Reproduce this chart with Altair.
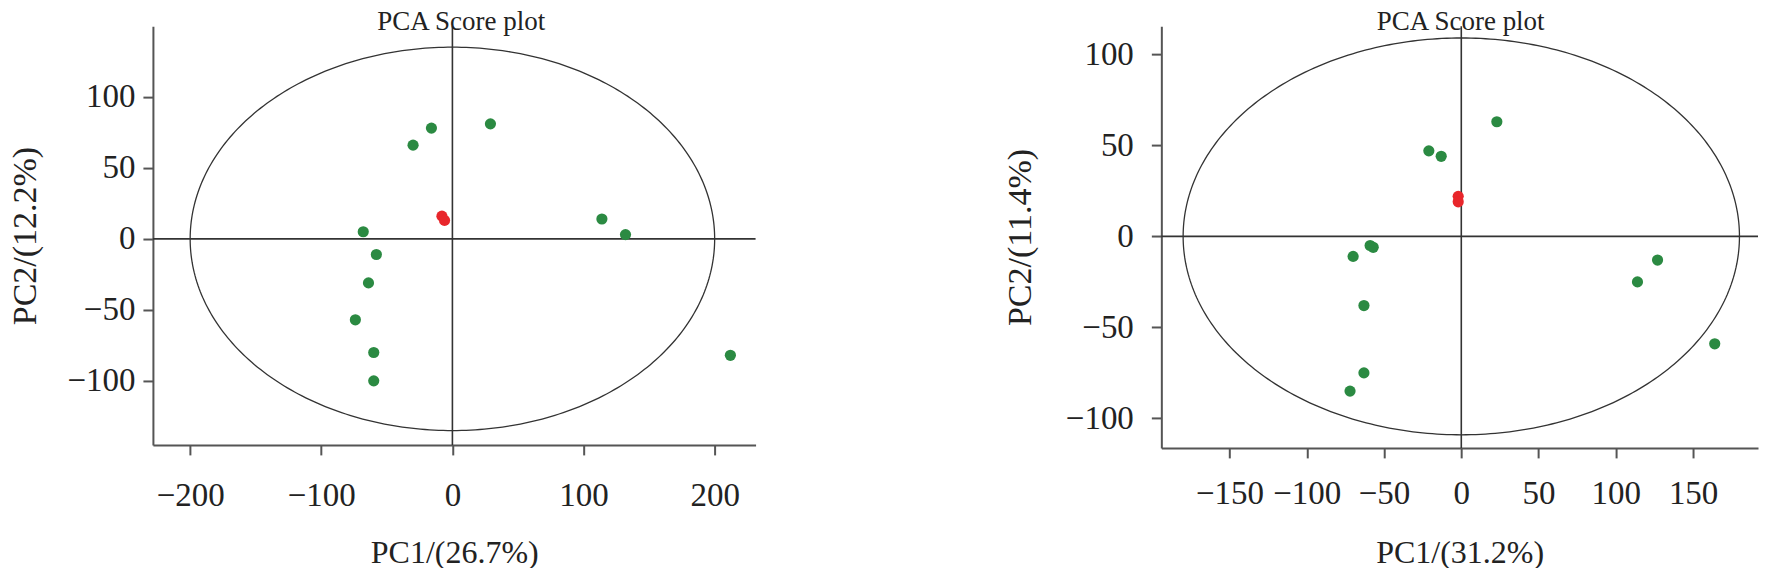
import altair as alt
import numpy as np
import pandas as pd

FONT = "Liberation Serif"

# ---- Panel A data ----
a_green_pc1 = [29, -16, -30, 114, 132, -68, -58, -64, -74, -60, -60, 212]
a_green_pc2 = [81, 78, 66, 14, 3, 5, -11, -31, -57, -80, -100, -82]
a_red_pc1 = [-8, -6]
a_red_pc2 = [16, 13]
a_ellipse_r = [200, 135]
a_xticks = [-200, -100, 0, 100, 200]
a_yticks = [-100, -50, 0, 50, 100]
a_xtitle = "PC1/(26.7%)"
a_ytitle = "PC2/(12.2%)"

# ---- Panel B data ----
b_green_pc1 = [23, -21, -13, -59, -57, -70, 127, 114, -63, 164, -63, -72]
b_green_pc2 = [63, 47, 44, -5, -6, -11, -13, -25, -38, -59, -75, -85]
b_red_pc1 = [-2, -2]
b_red_pc2 = [22, 19]
b_ellipse_r = [180, 109]
b_xticks = [-150, -100, -50, 0, 50, 100, 150]
b_yticks = [-100, -50, 0, 50, 100]
b_xtitle = "PC1/(31.2%)"
b_ytitle = "PC2/(11.4%)"

title_text = "PCA Score plot"
GREEN = "#2b8a42"
RED = "#e8262b"
LINE = "#333333"
AX = "#555555"


def panel(gx, gy, rx, ry, radii, xdom, ydom, xticks, yticks, xtitle, ytitle,
          width, height, tdx, xlabpad, xtitlepad, ylabpad, ytitlepad):
    pts = pd.DataFrame({
        "pc1": list(gx) + list(rx),
        "pc2": list(gy) + list(ry),
        "grp": ["sample"] * len(gx) + ["QC"] * len(rx),
    })
    t = np.linspace(0, 2 * np.pi, 361)
    ell = pd.DataFrame({"i": np.arange(len(t)),
                        "pc1": radii[0] * np.cos(t),
                        "pc2": radii[1] * np.sin(t)})
    xs = alt.Scale(domain=xdom, nice=False, zero=False)
    ys = alt.Scale(domain=ydom, nice=False, zero=False)
    xax = alt.Axis(values=xticks, grid=False, format="d", domainColor=AX, domainWidth=2,
                   tickColor=AX, tickWidth=2, tickSize=10, labelFont=FONT,
                   labelFontSize=33, labelColor="#222", labelPadding=xlabpad,
                   labelOverlap=False, labelFlush=False,
                   title=xtitle, titleFont=FONT, titleFontSize=32,
                   titleFontWeight="normal", titleColor="#222", titlePadding=xtitlepad)
    yax = alt.Axis(values=yticks, grid=False, format="d", domainColor=AX, domainWidth=2,
                   tickColor=AX, tickWidth=2, tickSize=10, labelFont=FONT,
                   labelFontSize=33, labelColor="#222", labelPadding=ylabpad,
                   labelOverlap=False, labelFlush=False,
                   title=ytitle, titleFont=FONT, titleFontSize=34,
                   titleFontWeight="normal", titleColor="#222", titlePadding=ytitlepad)
    base_pts = alt.Chart(pts).mark_circle(size=125, opacity=1).encode(
        x=alt.X("pc1:Q", scale=xs, axis=xax),
        y=alt.Y("pc2:Q", scale=ys, axis=yax),
        color=alt.Color("grp:N", scale=alt.Scale(domain=["sample", "QC"], range=[GREEN, RED]),
                        legend=None),
    )
    ellipse = alt.Chart(ell).mark_line(color=LINE, strokeWidth=1.3).encode(
        x=alt.X("pc1:Q", scale=xs), y=alt.Y("pc2:Q", scale=ys), order="i:Q")
    vrule = alt.Chart(pd.DataFrame({"v": [0]})).mark_rule(color=LINE, strokeWidth=1.6).encode(
        x=alt.X("v:Q", scale=xs))
    hrule = alt.Chart(pd.DataFrame({"v": [0]})).mark_rule(color=LINE, strokeWidth=1.6).encode(
        y=alt.Y("v:Q", scale=ys))
    return alt.layer(ellipse, vrule, hrule, base_pts).properties(
        width=width, height=height,
        title=alt.TitleParams(title_text, font=FONT, fontSize=27, fontWeight="normal",
                              color="#222", anchor="middle", offset=0, dy=11, dx=tdx),
    )


left = panel(a_green_pc1, a_green_pc2, a_red_pc1, a_red_pc2, a_ellipse_r,
             [-228.4, 231.2], [-145.1, 149.8], a_xticks, a_yticks, a_xtitle, a_ytitle,
             603, 419, 7, 25, 25, 8, 24)
right = panel(b_green_pc1, b_green_pc2, b_red_pc1, b_red_pc2, b_ellipse_r,
              [-194.1, 192], [-116.2, 115.5], b_xticks, b_yticks, b_xtitle, b_ytitle,
              597, 422, 1, 20, 27, 18, 28)

chart = alt.hconcat(left, right, spacing=406, bounds="flush").properties(
    padding=0).configure_view(stroke=None)
chart.save("out.html", embed_options={"renderer": "svg", "actions": False})
